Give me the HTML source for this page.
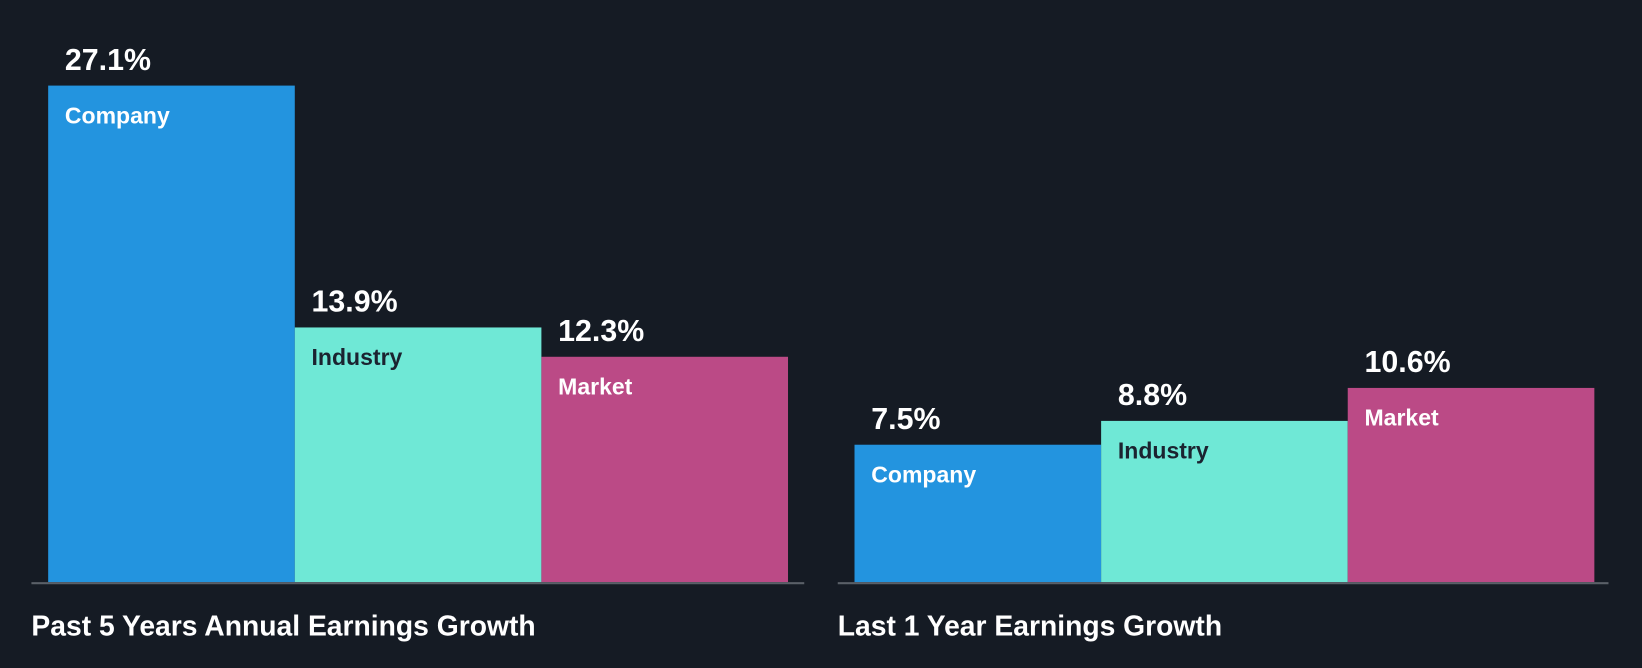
<!DOCTYPE html>
<html><head><meta charset="utf-8">
<style>
html,body{margin:0;padding:0;background:#151b24;}
svg{display:block;font-family:"Liberation Sans",Arial,sans-serif;}
</style></head>
<body>
<svg id="chart" width="1642" height="668" viewBox="0 0 1568 638" preserveAspectRatio="none" xmlns="http://www.w3.org/2000/svg">
<rect width="1568" height="638" fill="#151b24"/>
</svg>
<script>
const groupTitles = ["Past 5 Years Annual Earnings Growth", "Last 1 Year Earnings Growth"];
const categories = ["Company", "Industry", "Market"];
const past5Values = [27.1, 13.9, 12.3];
const last1Values = [7.5, 8.8, 10.6];
const valueLabels5 = ["27.1%", "13.9%", "12.3%"];
const valueLabels1 = ["7.5%", "8.8%", "10.6%"];

const svg = document.getElementById('chart');
const NS = 'http://www.w3.org/2000/svg';
const baseY = 556, pxPerUnit = 17.5;
function y(v){ return baseY - v * pxPerUnit; }
const groups = [
  {x0: 46, axisX: 30, axisW: 738, title: groupTitles[0], vals: past5Values, labels: valueLabels5, key: 'past-5-years'},
  {x0: 816, axisX: 800, axisW: 736, title: groupTitles[1], vals: last1Values, labels: valueLabels1, key: 'last-1-year'}
];
const barW = 235.5;
const fills = ['#2394df', '#6fe8d6', '#bb4a86'];
const textFills = ['#ffffff', '#1b2330', '#ffffff'];
function mk(tag, attrs, txt){
  const e = document.createElementNS(NS, tag);
  for (const k in attrs) e.setAttribute(k, attrs[k]);
  if (txt !== undefined) e.textContent = txt;
  svg.appendChild(e);
  return e;
}
groups.forEach(g => {
  g.vals.forEach((v, i) => {
    const bx = g.x0 + i * barW, top = y(v);
    const r = mk('rect', {x: bx, y: top, width: barW, height: baseY - top, fill: fills[i]});
    
    
    const vl = mk('text', {x: bx + 16, y: top - 15, fill: '#ffffff', 'font-size': 29, 'font-weight': 'bold'}, g.labels[i]);
    
    
    const cl = mk('text', {x: bx + 16, y: top + 36, fill: textFills[i], 'font-size': 22, 'font-weight': 'bold'}, categories[i]);
    
    
  });
  const ax = mk('rect', {x: g.axisX, y: baseY, width: g.axisW, height: 2, fill: '#5a6068'});
  
  
  const t = mk('text', {x: g.axisX, y: 607, fill: '#ffffff', 'font-size': 27, 'font-weight': 'bold'}, g.title);
  
  
});
</script>
</body></html>
